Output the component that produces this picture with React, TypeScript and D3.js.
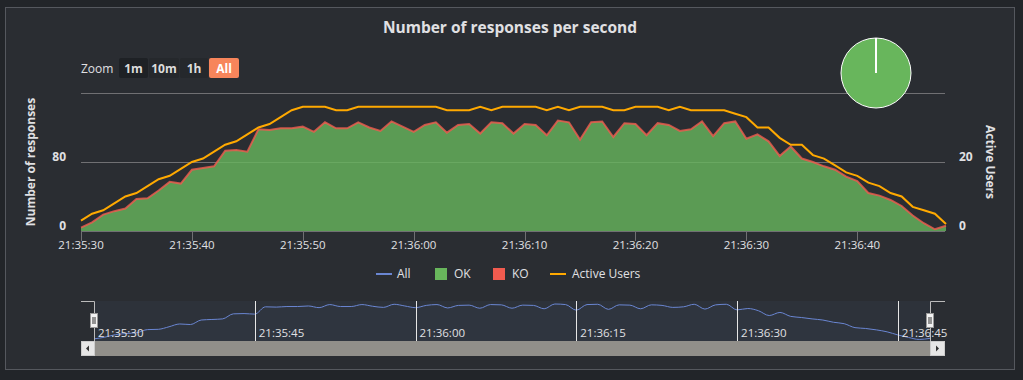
import React from "react";
import * as d3 from "d3";

const startTime = new Date(2024, 0, 1, 21, 35, 30);
const responses = [
  4, 10, 19, 23, 26, 37, 38, 47, 57, 55, 71, 73, 75, 93, 94, 92, 118, 117, 119, 119,
  121, 115, 126, 119, 119, 126, 120, 116, 127, 121, 115, 123, 126, 114, 123, 124, 113, 126, 125, 113,
  124, 123, 111, 128, 126, 106, 126, 127, 109, 125, 124, 111, 125, 123, 116, 118, 127, 110, 125, 127,
  107, 112, 104, 87, 98, 84, 80, 75, 71, 63, 58, 44, 41, 36, 29, 18, 9, 2, 6,
];
const koResponses = responses.map(() => 0);
const activeUsers = [
  3, 5, 6, 8, 10, 11, 13, 15, 16, 18, 20, 21, 23, 25, 26, 28, 30, 31, 33, 35,
  36, 36, 36, 35, 35, 36, 36, 36, 36, 36, 36, 36, 36, 35, 35, 35, 36, 35, 36, 36,
  36, 36, 35, 36, 35, 36, 36, 36, 35, 35, 36, 36, 36, 35, 36, 35, 35, 35, 35, 34,
  33, 30, 30, 27, 25, 25, 22, 21, 19, 17, 16, 14, 13, 11, 10, 7, 6, 5, 2,
];
const leftTicks = [0, 80, 160];
const rightTicks = [0, 20, 40];
const zoomButtons = ["1m", "10m", "1h", "All"];
const legendItems = ["All", "OK", "KO", "Active Users"];
const pieData = [
  { name: "OK", value: 7800 },
  { name: "KO", value: 0 },
];

const FONT = "'Open Sans', 'DejaVu Sans', sans-serif";
const TEXT = "#e0e0e3";
const OK_COLOR = "#68b65c";
const KO_COLOR = "#f15b4f";
const USERS_COLOR = "#ffa900";
const ALL_COLOR = "#6a86d2";

const times = responses.map((_, i) => new Date(startTime.getTime() + i * 1000));

export default function App() {
  const endTime = times[times.length - 1];
  const x = d3.scaleTime().domain([startTime, endTime]).range([81, 946]);
  const yL = d3.scaleLinear().domain([0, 160]).range([231, 93]);
  const yR = d3.scaleLinear().domain([0, 40]).range([231, 93]);
  const nx = d3.scaleTime().domain([startTime, endTime]).range([94, 930]);
  const ny = d3.scaleLinear().domain([0, d3.max(responses) as number]).range([340, 304]);
  const fmt = d3.timeFormat("%H:%M:%S");

  const okArea = d3
    .area<number>()
    .x((_, i) => x(times[i]))
    .y0(yL(0))
    .y1((d) => yL(d))(responses) as string;
  const koLine = d3
    .line<number>()
    .x((_, i) => x(times[i]))
    .y((d, i) => yL(d + koResponses[i]))(responses) as string;
  const usersLine = d3
    .line<number>()
    .x((_, i) => x(times[i]))
    .y((d) => yR(d))(activeUsers) as string;
  const navLine = d3
    .line<number>()
    .curve(d3.curveMonotoneX)
    .x((_, i) => nx(times[i]))
    .y((d) => ny(d))(responses) as string;
  const navArea = d3
    .area<number>()
    .curve(d3.curveMonotoneX)
    .x((_, i) => nx(times[i]))
    .y0(341)
    .y1((d) => ny(d))(responses) as string;

  const xTicks = x.ticks(d3.timeSecond.every(10) as any);
  const navTicks = nx.ticks(d3.timeSecond.every(15) as any);

  const pie = d3.pie<{ name: string; value: number }>().sort(null).value((d) => d.value)(pieData);
  const arc = d3.arc<any>().innerRadius(0).outerRadius(35);

  const btnX = [119, 149, 180, 209];
  const btnW = [29, 30, 28, 30];

  return (
    <div style={{ position: "absolute", left: 0, top: 0 }}>
      <svg width={1023} height={380} style={{ display: "block", fontFamily: FONT }}>
        <rect x={0} y={0} width={1023} height={380} fill="#222529" />
        <rect x={5.5} y={7.5} width={1009} height={362} fill="#2a2d32" stroke="#55585e" />

        <text x={510} y={33} textAnchor="middle" fill={TEXT} fontSize={15.5} fontWeight={700}>
          Number of responses per second
        </text>

        {/* range selector */}
        <text x={81} y={73} fill={TEXT} fontSize={12}>
          Zoom
        </text>
        {zoomButtons.map((b, i) => (
          <g key={b}>
            <rect
              x={btnX[i]}
              y={58}
              width={btnW[i]}
              height={20}
              rx={2}
              fill={b === "All" ? "#f7855b" : i === 0 ? "#1e2125" : "#25282c"}
            />
            <text
              x={btnX[i] + btnW[i] / 2}
              y={72.5}
              textAnchor="middle"
              fill={b === "All" ? "#ffffff" : "#dddddd"}
              fontSize={12}
              fontWeight={700}
            >
              {b}
            </text>
          </g>
        ))}

        {/* grid */}
        {leftTicks.slice(1).map((t) => (
          <line key={t} x1={81} x2={945} y1={yL(t) + 0.5} y2={yL(t) + 0.5} stroke="#707073" strokeWidth={1} />
        ))}

        {/* series */}
        <path d={okArea} fill={OK_COLOR} fillOpacity={0.8} />
        <path d={koLine} fill="none" stroke={KO_COLOR} strokeOpacity={0.8} strokeWidth={2} />
        <path d={usersLine} fill="none" stroke={USERS_COLOR} strokeWidth={2} />

        {/* x axis */}
        <line x1={81} x2={945} y1={231.5} y2={231.5} stroke="#707073" />
        {xTicks.map((t) => (
          <g key={+t}>
            <line x1={Math.round(x(t)) + 0.5} x2={Math.round(x(t)) + 0.5} y1={231} y2={241} stroke="#707073" />
            <text x={x(t)} y={248.5} textAnchor="middle" fill={TEXT} fontSize={11.5}>
              {fmt(t)}
            </text>
          </g>
        ))}

        {/* left axis */}
        {leftTicks.slice(0, 2).map((t) => (
          <text key={t} x={66} y={yL(t) - 1} textAnchor="end" fill={TEXT} fontSize={12} fontWeight={700}>
            {t}
          </text>
        ))}
        <text
          transform={`translate(35,162) rotate(-90)`}
          textAnchor="middle"
          fill={TEXT}
          fontSize={12}
          fontWeight={700}
        >
          Number of responses
        </text>

        {/* right axis */}
        {rightTicks.slice(0, 2).map((t) => (
          <text key={t} x={959} y={yR(t) - 1} textAnchor="start" fill={TEXT} fontSize={12} fontWeight={700}>
            {t}
          </text>
        ))}
        <text
          transform={`translate(986,162) rotate(90)`}
          textAnchor="middle"
          fill={TEXT}
          fontSize={12}
          fontWeight={700}
        >
          Active Users
        </text>

        {/* pie */}
        <g transform="translate(876,73)">
          {pie.map((p, i) => (
            <path key={i} d={arc(p) as string} fill={OK_COLOR} stroke="#ffffff" strokeWidth={1} />
          ))}
          <line x1={0} y1={0} x2={0} y2={-35} stroke="#ffffff" strokeWidth={2} />
        </g>

        {/* legend */}
        <g fontSize={12} fill={TEXT}>
          <line x1={376} x2={392} y1={274} y2={274} stroke={ALL_COLOR} strokeWidth={2} />
          <text x={397} y={278}>{legendItems[0]}</text>
          <rect x={435} y={268} width={12} height={12} fill={OK_COLOR} />
          <text x={454} y={278}>{legendItems[1]}</text>
          <rect x={493} y={268} width={12} height={12} fill={KO_COLOR} />
          <text x={512} y={278}>{legendItems[2]}</text>
          <line x1={550} x2={566} y1={274} y2={274} stroke={USERS_COLOR} strokeWidth={2} />
          <text x={572} y={278}>{legendItems[3]}</text>
        </g>

        {/* navigator */}
        <rect x={94} y={301} width={836} height={40} fill="#6685c2" fillOpacity={0.06} />
        <path d={navArea} fill={ALL_COLOR} fillOpacity={0.04} />
        <path d={navLine} fill="none" stroke={ALL_COLOR} strokeWidth={1} />
        {navTicks.map((t) => (
          <g key={+t}>
            {+t !== +startTime && (
              <line x1={Math.round(nx(t)) + 0.5} x2={Math.round(nx(t)) + 0.5} y1={301} y2={341} stroke="#e6e6e6" />
            )}
            <text x={nx(t) + 4} y={337} fill={TEXT} fontSize={11.5}>
              {fmt(t)}
            </text>
          </g>
        ))}
        <path d="M81,301.5 H94.5 V341 M930.5,341 V301.5 H945" fill="none" stroke="#bbbbbb" />
        {[94, 930].map((hx) => (
          <g key={hx}>
            <rect x={hx - 3.5} y={313.5} width={7} height={14} fill="#f2f2f2" stroke="#999999" />
            <line x1={hx - 1} x2={hx - 1} y1={317} y2={324} stroke="#333" />
            <line x1={hx + 1} x2={hx + 1} y1={317} y2={324} stroke="#333" />
          </g>
        ))}
        {/* scrollbar */}
        <rect x={81} y={341} width={864} height={15} fill="#918f8a" />
        <rect x={81.5} y={341.5} width={13} height={14} fill="#e6e6e6" stroke="#cccccc" />
        <path d="M89,345.5 L86,348.5 L89,351.5 Z" fill="#333" />
        <rect x={930.5} y={341.5} width={14} height={14} fill="#e6e6e6" stroke="#cccccc" />
        <path d="M936,345.5 L939,348.5 L936,351.5 Z" fill="#333" />
      </svg>
    </div>
  );
}
